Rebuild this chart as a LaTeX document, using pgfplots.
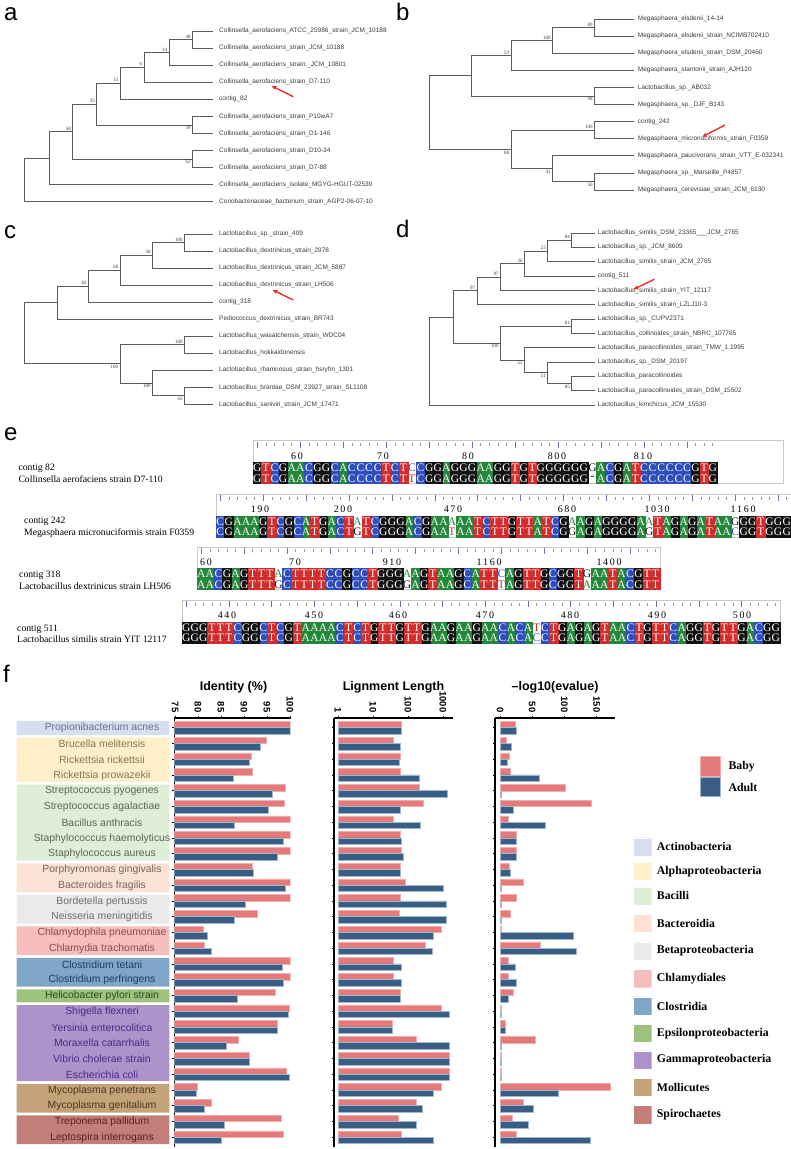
\documentclass[border=0pt]{standalone}
\usepackage{pgfplots}
\pgfplotsset{compat=1.18}
\usepackage{pgfplotstable}
\usepackage{fontspec}
\setmainfont{Liberation Serif}
\setsansfont{Liberation Sans}
\usetikzlibrary{arrows.meta}

\definecolor{treeline}{HTML}{5A5A5A}
\definecolor{treetext}{HTML}{3A3A3A}
\definecolor{arrowred}{HTML}{E8261E}
\definecolor{seqA}{HTML}{23883A}
\definecolor{seqC}{HTML}{2E4EBE}
\definecolor{seqG}{HTML}{111111}
\definecolor{seqT}{HTML}{D42B2B}
\definecolor{rulerc}{HTML}{8B95A8}
\definecolor{rulerc2}{HTML}{6A74A8}
\definecolor{framec}{HTML}{C8C8C8}
\definecolor{babyC}{HTML}{E57A7A}
\definecolor{babyE}{HTML}{F2AEAE}
\definecolor{adultC}{HTML}{385E86}
\definecolor{adultE}{HTML}{9FB6CE}
\definecolor{actF}{HTML}{D6DEEF}\definecolor{actT}{HTML}{6B7089}
\definecolor{alpF}{HTML}{FDEFC8}\definecolor{alpT}{HTML}{8A7450}
\definecolor{bacF}{HTML}{DFEED7}\definecolor{bacT}{HTML}{5C6656}
\definecolor{bctF}{HTML}{FBE2D5}\definecolor{bctT}{HTML}{77655D}
\definecolor{betF}{HTML}{EAEAEA}\definecolor{betT}{HTML}{6E6E6E}
\definecolor{chlF}{HTML}{F5BDBC}\definecolor{chlT}{HTML}{8A4B4B}
\definecolor{cloF}{HTML}{7FA5C8}\definecolor{cloT}{HTML}{1D3D66}
\definecolor{epsF}{HTML}{9DC27B}\definecolor{epsT}{HTML}{2C4A1E}
\definecolor{gamF}{HTML}{AE93CA}\definecolor{gamT}{HTML}{4A2A88}
\definecolor{molF}{HTML}{C3A377}\definecolor{molT}{HTML}{4A3820}
\definecolor{spiF}{HTML}{C47E7A}\definecolor{spiT}{HTML}{5E1E1E}

\newcommand\seqfont{\rmfamily\fontsize{11.5}{11.5}\selectfont}

% split two aligned sequences into cell coordinates (matches / mismatches)
\newcount\seqidx
\def\LA{}\def\LC{}\def\LG{}\def\LT{}
\def\MA{}\def\MC{}\def\MG{}\def\MT{}\def\MX{}
\def\RMin{}\def\RMaj{}
\def\seqadd#1#2{\expandafter\xdef\csname#1\endcsname{\csname#1\endcsname#2}}
\def\seqmis#1{\if#1-\seqadd{MX}{(\cx,\cy) }\else\seqadd{M#1}{(\cx,\cy) }\fi}
\def\seqwalk#1#2\relax#3#4\relax{%
  \pgfmathsetmacro\cx{\rx+\rdx*(\the\seqidx+0.5)}%
  \pgfmathtruncatemacro\cm{mod(\the\seqidx,5)}%
  \ifnum\cm=0 \seqadd{RMaj}{(\cx,\ry) }\else\seqadd{RMin}{(\cx,\ry) }\fi
  \if#1#3%
    \edef\cy{\ryA}\seqadd{L#1}{(\cx,\cy) }\edef\cy{\ryB}\seqadd{L#1}{(\cx,\cy) }%
  \else
    \edef\cy{\ryA}\seqmis{#1}\edef\cy{\ryB}\seqmis{#3}%
  \fi
  \advance\seqidx by 1
  \ifx\relax#2\relax\else\seqwalk#2\relax#4\relax\fi}
\def\seqrow#1#2#3#4#5#6#7{\def\rx{#1}\def\rdx{#2}\def\ry{#3}\def\ryA{#4}\def\ryB{#5}%
  \seqidx=0 \seqwalk#6\relax#7\relax}

\seqrow{253}{8.593}{444.7}{467.7}{478.3}%
 {GTCGAACGGCACCCCTCTCCGGAGGGAAGGTGTGGGGGGGACGATCCCCCCGTG}%
 {GTCGAACGGCACCCCTCTTCGGAGGGAAGGTGTGGGGGG-ACGATCCCCCCGTG}
\seqrow{216}{8.582}{498.3}{521.3}{531.8}%
 {CGAAAGTCGCATGACTATCGGGACGAAAAATCTTGTTATCGAAGAGGGGAATAGAGATAAGGGTGGG}%
 {CGAAAGTCGCATGACTGTCGGGACGAATAATCTTGTTATCGGAGAGGGGAGTAGAGATAACGGTGGG}
\seqrow{197}{8.574}{550.7}{573.7}{584.3}%
 {AACGAGTTTACTTTTCCGCCTGGGAAGTAAGCATTCAGTTGCGGTGAATACGTT}%
 {AACGAGTTTGCTTTTCCGCCTGGGGAGTAAGCATTTAGTTGCGGTAAATACGTT}
\seqrow{182}{8.543}{604.3}{627.3}{638}%
 {GGGTTTCGGCTCGTAAAACTCTGTTGTTGAAGAAGAACACATCTGAGAGTAACTGTTCAGGTGTTGACGG}%
 {GGGTTTCGGCTCGTAAAACTCTGTTGTTGAAGAAGAACACACCTGAGAGTAACTGTTCAGGTGTTGACGG}

% bar data: identity, alignment length, -log10(evalue); B = baby, A = adult
\pgfplotstableread{
i idB idA lenB lenA evB evA
1 100 100 63 63 23.3 25.9
2 94.8 93.5 38 59 9.3 17.1
3 91.5 91.1 59 55 15.0 11.4
4 91.9 87.7 60 204 16.0 60.6
5 99.1 96.2 204 1280 101.5 1.5
6 98.9 95.3 274 62 141.3 20.7
7 100 87.9 38 231 12.4 69.9
8 100 98.6 62 66 24.8 25.9
9 100 97.2 63 71 25.9 25.9
10 91.9 92.0 59 62 15.0 16.0
11 100 99.1 82 1000 36.2 1.5
12 100 90.2 62 1240 24.8 1.5
13 93.0 88.0 57 1240 16.0 1.5
14 81.2 82.0 890 510 1.5 113.9
15 81.3 82.8 320 495 62.6 118
16 100 98.4 39 63 13.5 24.3
17 100 98.5 39 64 13.5 25.9
18 96.9 88.6 62 59 21.2 12.9
19 99.9 99.6 875 1520 1.5 1.5
20 97.2 97.2 35 35 7.8 8.3
21 88.8 86.2 177 1520 55.4 1.5
22 91.1 91.2 1520 1520 1.5 1.5
23 99.3 99.9 1520 1520 1.5 1.5
24 79.9 79.6 915 540 170.8 90.6
25 82.9 81.4 173 256 35.7 52.3
26 98.2 85.7 54 177 19.7 44
27 98.5 85.0 66 510 25.9 139.8
}\bardata

\tikzset{
  tlab/.style={font=\sffamily\fontsize{6.5}{7}\selectfont, text=treetext, inner sep=0pt, anchor=west},
  bslab/.style={font=\rmfamily\fontsize{5}{5}\selectfont, text=treetext, inner sep=0.6pt},
  rulnum/.style={font=\rmfamily\fontsize{10}{10}\selectfont, inner sep=0pt},
  seqlab/.style={font=\rmfamily\fontsize{9.7}{10}\selectfont, anchor=west, inner sep=0pt},
  plet/.style={font=\sffamily\fontsize{24}{24}\selectfont, anchor=base west, inner sep=0pt},
  ttl/.style={font=\sffamily\bfseries\fontsize{12.5}{13}\selectfont, inner sep=0pt},
  cat/.style={font=\sffamily\fontsize{10.4}{11}\selectfont, inner sep=0pt},
  legt/.style={font=\rmfamily\bfseries\fontsize{11.8}{12}\selectfont, anchor=west, inner sep=0pt},
}
\pgfplotsset{
  tl/.style={draw=treeline, line width=0.8pt, mark=none},
  redarr/.style={draw=arrowred, line width=1.3pt, -{Stealth[length=5pt,width=4.5pt]}},
  cellbg/.style={only marks, mark=square*, mark size=4.35pt, color=#1,
    mark options={solid, draw=none, fill=#1, yscale=1.22}},
  celltx/.style 2 args={only marks, mark=text, text mark={#1}, text mark as node=true,
    text mark style={font=\seqfont, text=#2, inner sep=0pt, anchor=center}, color=#2},
  rulmin/.style={only marks, mark=|, mark size=1.3pt, color=rulerc, mark options={line width=0.5pt}},
  rulmaj/.style={only marks, mark=|, mark size=3pt, color=rulerc2, mark options={line width=0.6pt}},
  babybar/.style={xbar, bar width=6.4pt, bar shift=0pt, fill=babyC, draw=babyE, line width=0.5pt},
  adultbar/.style={xbar, bar width=6.4pt, bar shift=0pt, fill=adultC, draw=adultE, line width=0.5pt},
  barax/.style={scale only axis, height=429pt, ymin=0.38, ymax=27.616,
    axis x line*=top, axis y line*=left, axis line style={line width=1.2pt},
    ytick={1,...,27}, yticklabels={}, tick align=outside, major tick length=2pt,
    every tick/.style={black, line width=0.5pt},
    xticklabel style={font=\sffamily\bfseries\fontsize{9.5}{10}\selectfont, rotate=-90, anchor=east},
    /pgf/number format/assume math mode=true},
}

\newcommand\br[5]{\addplot[tl] coordinates {(#1,#2) (#3,#2) (#3,#4) (#5,#4)};}
\newcommand\lf[3]{\node[tlab] at (axis cs:#1,#2) {#3};}
\newcommand\bsu[3]{\node[bslab, anchor=south east] at (axis cs:#1,#2) {#3};}
\newcommand\bsd[3]{\node[bslab, anchor=north east] at (axis cs:#1,#2) {#3};}
\newcommand\rect[5][]{\addplot[#1] coordinates {(#2,#3) (#4,#3) (#4,#5) (#2,#5) (#2,#3)};}

\begin{document}
\begin{tikzpicture}
\useasboundingbox (0,0) rectangle (791pt,1149pt);
\begin{axis}[at={(0pt,0pt)}, anchor=south west, scale only axis, width=791pt, height=1149pt,
  xmin=0, xmax=791, ymin=0, ymax=1149, y dir=reverse, hide axis, clip=false]

% panel letters
\node[plet] at (axis cs:4,20) {a};
\node[plet] at (axis cs:396,20) {b};
\node[plet] at (axis cs:4,238) {c};
\node[plet] at (axis cs:396,237) {d};
\node[plet] at (axis cs:4,440) {e};
\node[plet] at (axis cs:3,682) {f};

% ---------------- tree a
\br{213}{31}{192.7}{48.1}{213}
\br{192.7}{39.55}{169}{65.1}{213}
\br{169}{52.3}{144}{82.2}{213}
\br{144}{67.25}{120}{99.3}{213}
\br{213}{116.4}{192.7}{133.4}{213}
\br{120}{83.3}{96.7}{124.9}{192.7}
\br{213}{150.5}{192.7}{167.6}{213}
\br{96.7}{104.1}{72.7}{159.05}{192.7}
\br{72.7}{131.6}{49}{184.6}{213}
\br{49}{158.1}{24.3}{201.7}{213}
\bsu{191.5}{39}{48}\bsu{168}{51.8}{14}\bsu{143}{66.8}{6}\bsu{119}{82.8}{15}
\bsd{191.5}{125.4}{39}\bsu{95.7}{103.6}{35}\bsd{191.5}{159.5}{62}\bsu{71.7}{131.1}{58}
\lf{219}{31}{Collinsella\_aerofaciens\_ATCC\_25986\_strain\_JCM\_10188}
\lf{219}{48.1}{Collinsella\_aerofaciens\_strain\_JCM\_10188}
\lf{219}{65.1}{Collinsella\_aerofaciens\_strain:\_JCM\_10801}
\lf{219}{82.2}{Collinsella\_aerofaciens\_strain\_D7-110}
\lf{219}{99.3}{contig\_82}
\lf{219}{116.4}{Collinsella\_aerofaciens\_strain\_P10wA7}
\lf{219}{133.4}{Collinsella\_aerofaciens\_strain\_D1-146}
\lf{219}{150.5}{Collinsella\_aerofaciens\_strain\_D10-34}
\lf{219}{167.6}{Collinsella\_aerofaciens\_strain\_D7-88}
\lf{219}{184.6}{Collinsella\_aerofaciens\_isolate\_MGYG-HGUT-02539}
\lf{219}{201.7}{Coriobacteriaceae\_bacterium\_strain\_AGP2-06-07-10}
\addplot[redarr] coordinates {(293.3,96.7) (271.7,86)};

% ---------------- tree b
\br{634.3}{19}{594.3}{36.1}{634.3}
\br{594.3}{27.55}{552.3}{53.2}{634.3}
\br{552.3}{40.4}{511}{70.3}{634.3}
\br{634.3}{87.4}{594.3}{104.5}{634.3}
\br{511}{55.35}{471}{95.95}{594.3}
\br{634.3}{121.6}{594.3}{138.7}{634.3}
\br{634.3}{172.9}{594.3}{190}{634.3}
\br{634.3}{155.8}{552.3}{181.45}{594.3}
\br{594.3}{130.15}{511}{168.6}{552.3}
\br{471}{75.65}{429.3}{149.4}{511}
\bsu{593.3}{27}{89}\bsu{551.3}{39.9}{100}\bsu{510}{54.85}{53}\bsd{593.3}{96.45}{98}
\bsu{593.3}{129.65}{100}\bsd{593.3}{181.95}{50}\bsd{551.3}{169.1}{41}\bsd{510}{149.9}{88}
\lf{637.7}{19}{Megasphaera\_elsdenii\_14-14}
\lf{637.7}{36.1}{Megasphaera\_elsdenii\_strain\_NCIMB702410}
\lf{637.7}{53.2}{Megasphaera\_elsdenii\_strain\_DSM\_20460}
\lf{637.7}{70.3}{Megasphaera\_stantonii\_strain\_AJH120}
\lf{637.7}{87.4}{Lactobacillus\_sp.\_AB032}
\lf{637.7}{104.5}{Megasphaera\_sp.\_DJF\_B143}
\lf{637.7}{121.6}{contig\_242}
\lf{637.7}{138.7}{Megasphaera\_micronuciformis\_strain\_F0359}
\lf{637.7}{155.8}{Megasphaera\_paucivorans\_strain\_VTT\_E-032341}
\lf{637.7}{172.9}{Megasphaera\_sp.\_Marseille\_P4857}
\lf{637.7}{190}{Megasphaera\_cerevisiae\_strain\_JCM\_6130}
\addplot[redarr] coordinates {(725,125) (702.3,136.7)};

% ---------------- tree c
\br{213}{234}{184.3}{251}{213}
\br{184.3}{242.5}{152.3}{268.1}{213}
\br{152.3}{255.3}{120}{285.1}{213}
\br{120}{270.2}{88.3}{302.1}{213}
\br{88.3}{286.15}{57.3}{319.2}{213}
\br{213}{336.2}{184.3}{353.2}{213}
\br{213}{387.3}{184.3}{404.3}{213}
\br{213}{370.2}{152.3}{395.8}{184.3}
\br{184.3}{344.7}{120}{383}{152.3}
\br{57.3}{302.7}{24.3}{363.85}{120}
\bsu{183.3}{242}{100}\bsu{151.3}{254.8}{58}\bsu{119}{269.7}{68}\bsu{87.3}{285.65}{82}
\bsu{183.3}{344.2}{100}\bsd{183.3}{396.3}{65}\bsd{151.3}{383.5}{100}\bsd{119}{364.35}{100}
\lf{219}{234}{Lactobacillus\_sp.\_strain\_409}
\lf{219}{251}{Lactobacillus\_dextrinicus\_strain\_2978}
\lf{219}{268.1}{Lactobacillus\_dextrinicus\_strain\_JCM\_5887}
\lf{219}{285.1}{Lactobacillus\_dextrinicus\_strain\_LH506}
\lf{219}{302.1}{contig\_318}
\lf{219}{319.2}{Pediococcus\_dextrinicus\_strain\_BR743}
\lf{219}{336.2}{Lactobacillus\_wasatchensis\_strain\_WDC04}
\lf{219}{353.2}{Lactobacillus\_hokkaidonensis}
\lf{219}{370.2}{Lactobacillus\_rhamnosus\_strain\_hsryfm\_1301}
\lf{219}{387.3}{Lactobacillus\_brantae\_DSM\_23927\_strain\_SL1108}
\lf{219}{404.3}{Lactobacillus\_saniviri\_strain\_JCM\_17471}
\addplot[redarr] coordinates {(293.3,300) (272.7,290)};

% ---------------- tree d
\br{595}{233}{571.7}{247.3}{595}
\br{571.7}{240.15}{547.7}{261.7}{595}
\br{547.7}{250.9}{524.3}{276}{595}
\br{524.3}{263.45}{500.3}{290.3}{595}
\br{500.3}{276.9}{477}{304.7}{595}
\br{595}{319}{571.7}{333.3}{595}
\br{595}{376.3}{571.7}{390.7}{595}
\br{595}{362}{547.7}{383.5}{571.7}
\br{595}{347.7}{524.3}{372.75}{547.7}
\br{571.7}{326.15}{500.3}{360.2}{524.3}
\br{477}{290.8}{453}{343.2}{500.3}
\br{453}{317}{429.3}{405}{595}
\bsu{570.7}{239.65}{84}\bsu{546.7}{250.4}{23}\bsu{523.3}{262.95}{26}\bsu{499.3}{276.4}{97}
\bsu{476}{290.3}{97}\bsu{570.7}{325.65}{81}\bsd{570.7}{384}{85}\bsd{546.7}{373.25}{51}
\bsd{523.3}{360.7}{55}\bsd{499.3}{343.7}{100}
\lf{597.7}{233}{Lactobacillus\_similis\_DSM\_23365\_\_\_JCM\_2765}
\lf{597.7}{247.3}{Lactobacillus\_sp.\_JCM\_8609}
\lf{597.7}{261.7}{Lactobacillus\_similis\_strain\_JCM\_2765}
\lf{597.7}{276}{contig\_511}
\lf{597.7}{290.3}{Lactobacillus\_similis\_strain\_YIT\_12117}
\lf{597.7}{304.7}{Lactobacillus\_similis\_strain\_LZLJ10-3}
\lf{597.7}{319}{Lactobacillus\_sp.\_CUPV2371}
\lf{597.7}{333.3}{Lactobacillus\_collinoides\_strain\_NBRC\_107765}
\lf{597.7}{347.7}{Lactobacillus\_paracollinoides\_strain\_TMW\_1.1995}
\lf{597.7}{362}{Lactobacillus\_sp.\_DSM\_20197}
\lf{597.7}{376.3}{Lactobacillus\_paracollinoides}
\lf{597.7}{390.7}{Lactobacillus\_paracollinoides\_strain\_DSM\_15502}
\lf{597.7}{405}{Lactobacillus\_kimchicus\_JCM\_15530}
\addplot[redarr] coordinates {(654.3,279.3) (633.7,289.3)};

% ---------------- alignments (e)
\rect[draw=framec, line width=0.5pt]{253}{440.5}{783}{483.6}
\rect[draw=framec, line width=0.5pt]{216}{494.5}{791}{537.1}
\rect[draw=framec, line width=0.5pt]{197}{546.9}{660}{589.6}
\rect[draw=framec, line width=0.5pt]{182}{600.5}{780}{643.3}
\edef\tmp{\noexpand\addplot[rulmin] coordinates {\RMin};}\tmp
\edef\tmp{\noexpand\addplot[rulmaj] coordinates {\RMaj};}\tmp
\edef\tmp{\noexpand\addplot[cellbg=seqA] coordinates {\LA};}\tmp
\edef\tmp{\noexpand\addplot[cellbg=seqC] coordinates {\LC};}\tmp
\edef\tmp{\noexpand\addplot[cellbg=seqG] coordinates {\LG};}\tmp
\edef\tmp{\noexpand\addplot[cellbg=seqT] coordinates {\LT};}\tmp
\edef\tmp{\noexpand\addplot[celltx={A}{white}] coordinates {\LA};}\tmp
\edef\tmp{\noexpand\addplot[celltx={C}{white}] coordinates {\LC};}\tmp
\edef\tmp{\noexpand\addplot[celltx={G}{white}] coordinates {\LG};}\tmp
\edef\tmp{\noexpand\addplot[celltx={T}{white}] coordinates {\LT};}\tmp
\edef\tmp{\noexpand\addplot[celltx={A}{seqA}] coordinates {\MA};}\tmp
\edef\tmp{\noexpand\addplot[celltx={C}{seqC}] coordinates {\MC};}\tmp
\edef\tmp{\noexpand\addplot[celltx={G}{seqG}] coordinates {\MG};}\tmp
\edef\tmp{\noexpand\addplot[celltx={T}{seqT}] coordinates {\MT};}\tmp
\edef\tmp{\noexpand\addplot[celltx={-}{black}] coordinates {\MX};}\tmp

\node[rulnum] at (axis cs:297,456) {6\,0};
\node[rulnum] at (axis cs:383,456) {7\,0};
\node[rulnum] at (axis cs:468,456) {8\,0};
\node[rulnum] at (axis cs:557,456) {8\,0\,0};
\node[rulnum] at (axis cs:643,456) {8\,1\,0};
\node[rulnum] at (axis cs:260,509.5) {1\,9\,0};
\node[rulnum] at (axis cs:343,509.5) {2\,0\,0};
\node[rulnum] at (axis cs:453,509.5) {4\,7\,0};
\node[rulnum] at (axis cs:567,509.5) {6\,8\,0};
\node[rulnum] at (axis cs:657,509.5) {1\,0\,3\,0};
\node[rulnum] at (axis cs:743,509.5) {1\,1\,6\,0};
\node[rulnum] at (axis cs:206,562) {6\,0};
\node[rulnum] at (axis cs:295,562) {7\,0};
\node[rulnum] at (axis cs:392,562) {9\,1\,0};
\node[rulnum] at (axis cs:489,562) {1\,1\,6\,0};
\node[rulnum] at (axis cs:609,562) {1\,4\,0\,0};
\node[rulnum] at (axis cs:227,615.6) {4\,4\,0};
\node[rulnum] at (axis cs:314,615.6) {4\,5\,0};
\node[rulnum] at (axis cs:398,615.6) {4\,6\,0};
\node[rulnum] at (axis cs:485,615.6) {4\,7\,0};
\node[rulnum] at (axis cs:570,615.6) {4\,8\,0};
\node[rulnum] at (axis cs:657,615.6) {4\,9\,0};
\node[rulnum] at (axis cs:742,615.6) {5\,0\,0};

\node[seqlab] at (axis cs:18.3,468.5) {contig 82};
\node[seqlab] at (axis cs:18.3,479.2) {Collinsella aerofaciens strain D7-110};
\node[seqlab] at (axis cs:24,521.7) {contig 242};
\node[seqlab] at (axis cs:24,532.7) {Megasphaera micronuciformis strain F0359};
\node[seqlab] at (axis cs:19,575) {contig 318};
\node[seqlab] at (axis cs:19,585.7) {Lactobacillus dextrinicus strain LH506};
\node[seqlab] at (axis cs:17,629) {contig 511};
\node[seqlab] at (axis cs:17,639.5) {Lactobacillus similis strain YIT 12117};

% ---------------- panel f: category boxes
\rect[fill=actF, draw=none]{16.7}{721}{169.3}{735}
\rect[fill=alpF, draw=none]{16.7}{737.45}{169.3}{781.95}
\rect[fill=bacF, draw=none]{16.7}{784.7}{169.3}{860.7}
\rect[fill=bctF, draw=none]{16.7}{863.45}{169.3}{892.2}
\rect[fill=betF, draw=none]{16.7}{894.95}{169.3}{923.7}
\rect[fill=chlF, draw=none]{16.7}{926.45}{169.3}{955.2}
\rect[fill=cloF, draw=none]{16.7}{957.95}{169.3}{986.7}
\rect[fill=epsF, draw=none]{16.7}{989.45}{169.3}{1002.45}
\rect[fill=gamF, draw=none]{16.7}{1005.2}{169.3}{1081.2}
\rect[fill=molF, draw=none]{16.7}{1083.95}{169.3}{1112.7}
\rect[fill=spiF, draw=none]{16.7}{1115.45}{169.3}{1144.2}

\node[cat, text=actT] at (axis cs:102,728.2) {Propionibacterium acnes};
\node[cat, text=alpT] at (axis cs:102,743.95) {Brucella melitensis};
\node[cat, text=alpT] at (axis cs:102,759.7) {Rickettsia rickettsii};
\node[cat, text=alpT] at (axis cs:102,775.45) {Rickettsia prowazekii};
\node[cat, text=bacT] at (axis cs:102,791.2) {Streptococcus pyogenes};
\node[cat, text=bacT] at (axis cs:102,806.95) {Streptococcus agalactiae};
\node[cat, text=bacT] at (axis cs:102,822.7) {Bacillus anthracis};
\node[cat, text=bacT] at (axis cs:102,838.45) {Staphylococcus haemolyticus};
\node[cat, text=bacT] at (axis cs:102,854.2) {Staphylococcus aureus};
\node[cat, text=bctT] at (axis cs:102,869.95) {Porphyromonas gingivalis};
\node[cat, text=bctT] at (axis cs:102,885.7) {Bacteroides fragilis};
\node[cat, text=betT] at (axis cs:102,901.45) {Bordetella pertussis};
\node[cat, text=betT] at (axis cs:102,917.2) {Neisseria meningitidis};
\node[cat, text=chlT] at (axis cs:102,932.95) {Chlamydophila pneumoniae};
\node[cat, text=chlT] at (axis cs:102,948.7) {Chlamydia trachomatis};
\node[cat, text=cloT] at (axis cs:102,964.45) {Clostridium tetani};
\node[cat, text=cloT] at (axis cs:102,980.2) {Clostridium perfringens};
\node[cat, text=epsT] at (axis cs:102,995.95) {Helicobacter pylori strain};
\node[cat, text=gamT] at (axis cs:102,1011.7) {Shigella flexneri};
\node[cat, text=gamT] at (axis cs:102,1027.45) {Yersinia enterocolitica};
\node[cat, text=gamT] at (axis cs:102,1043.2) {Moraxella catarrhalis};
\node[cat, text=gamT] at (axis cs:102,1058.95) {Vibrio cholerae strain};
\node[cat, text=gamT] at (axis cs:102,1074.7) {Escherichia coli};
\node[cat, text=molT] at (axis cs:102,1090.45) {Mycoplasma penetrans};
\node[cat, text=molT] at (axis cs:102,1106.2) {Mycoplasma genitalium};
\node[cat, text=spiT] at (axis cs:102,1121.95) {Treponema pallidum};
\node[cat, text=spiT] at (axis cs:102,1137.7) {Leptospira interrogans};

% titles
\node[ttl] at (axis cs:233.5,687) {Identity (\%)};
\node[ttl] at (axis cs:393.5,687) {Lignment Length};
\node[ttl] at (axis cs:555,687) {--log10(evalue)};

% legends
\rect[fill=babyC, draw=babyE, line width=0.8pt]{700}{756.7}{720}{776}
\rect[fill=adultC, draw=adultE, line width=0.8pt]{700}{777.3}{720}{796.7}
\node[legt] at (axis cs:728.3,766.4) {Baby};
\node[legt] at (axis cs:728.3,787) {Adult};
\rect[fill=actF, draw=white]{633.3}{837.7}{651.7}{856}
\rect[fill=alpF, draw=white]{633.3}{862.1}{651.7}{880.4}
\rect[fill=bacF, draw=white]{633.3}{886.7}{651.7}{905}
\rect[fill=bctF, draw=white]{633.3}{913.8}{651.7}{932.2}
\rect[fill=betF, draw=white]{633.3}{941.7}{651.7}{960}
\rect[fill=chlF, draw=white]{633.3}{969.3}{651.7}{987.7}
\rect[fill=cloF, draw=white]{633.3}{996.8}{651.7}{1015.2}
\rect[fill=epsF, draw=white]{633.3}{1024.1}{651.7}{1042.5}
\rect[fill=gamF, draw=white]{633.3}{1050.8}{651.7}{1069.2}
\rect[fill=molF, draw=white]{633.3}{1078}{651.7}{1096.4}
\rect[fill=spiF, draw=white]{633.3}{1105.6}{651.7}{1124}
\node[legt] at (axis cs:656.7,846.8) {Actinobacteria};
\node[legt] at (axis cs:656.7,871.2) {Alphaproteobacteria};
\node[legt] at (axis cs:656.7,895.8) {Bacilli};
\node[legt] at (axis cs:656.7,923) {Bacteroidia};
\node[legt] at (axis cs:656.7,950.8) {Betaproteobacteria};
\node[legt] at (axis cs:656.7,978.5) {Chlamydiales};
\node[legt] at (axis cs:656.7,1006) {Clostridia};
\node[legt] at (axis cs:656.7,1033.3) {Epsilonproteobacteria};
\node[legt] at (axis cs:656.7,1060) {Gammaproteobacteria};
\node[legt] at (axis cs:656.7,1087.2) {Mollicutes};
\node[legt] at (axis cs:656.7,1114.8) {Spirochaetes};
\end{axis}

% ---------------- bar panels
\begin{axis}[barax, at={(174.3pt,431pt)}, anchor=north west, width=116.4pt,
  xmin=74.85, xmax=100.2, xtick={75,80,...,100}]
\addplot[babybar] table[x=idB, y expr=28-\thisrow{i}+0.2] {\bardata};
\addplot[adultbar] table[x=idA, y expr=28-\thisrow{i}-0.2] {\bardata};
\end{axis}
\begin{axis}[barax, at={(334pt,431pt)}, anchor=north west, width=119pt,
  xmode=log, xmin=0.769, xmax=1931, xtick={1,10,100,1000},
  xticklabels={1,10,100,1000}, xminorticks=false]
\addplot[babybar] table[x=lenB, y expr=28-\thisrow{i}+0.2] {\bardata};
\addplot[adultbar] table[x=lenA, y expr=28-\thisrow{i}-0.2] {\bardata};
\end{axis}
\begin{axis}[barax, at={(495pt,431pt)}, anchor=north west, width=120pt,
  xmin=-7.8, xmax=178.6, xtick={0,50,100,150}]
\addplot[babybar] table[x=evB, y expr=28-\thisrow{i}+0.2] {\bardata};
\addplot[adultbar] table[x=evA, y expr=28-\thisrow{i}-0.2] {\bardata};
\end{axis}
\end{tikzpicture}
\end{document}
